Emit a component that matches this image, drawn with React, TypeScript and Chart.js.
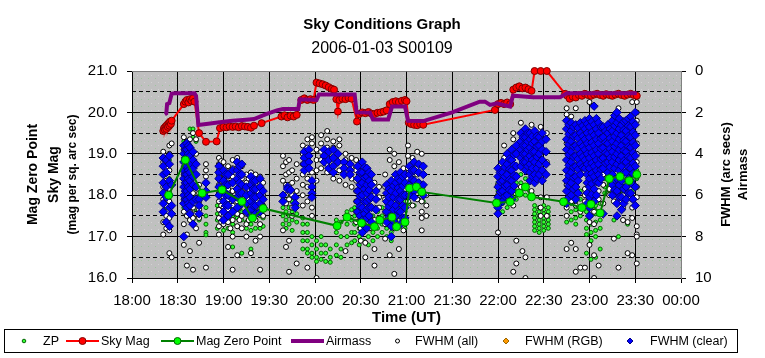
import React, { useEffect, useRef } from "react";
import { Chart, registerables } from "chart.js";
Chart.register(...registerables);

// x values are minutes after 18:00 UT
const xTickLabels = ["18:00", "18:30", "19:00", "19:30", "20:00", "20:30", "21:00", "21:30", "22:00", "22:30", "23:00", "23:30", "00:00"];

const skyMag: [number, number][] = [
  [20.5, 19.55], [21, 19.62], [21.5, 19.58], [22, 19.66], [22.5, 19.6], [23, 19.7], [23.5, 19.65], [24, 19.74], [24.5, 19.68], [25, 19.78], [25.5, 19.72], [26, 19.8],
  [34, 20.2], [35, 20.26], [36, 20.3], [37, 20.24], [38, 20.32], [39, 20.28], [40, 20.34], [41, 20.26],
  [44, 19.5], [48.5, 19.29], [55.5, 19.3], [57.7, 19.62], [60, 19.65], [62, 19.64], [64, 19.66], [66, 19.65], [68, 19.66], [70, 19.64], [72, 19.67], [74, 19.66], [76, 19.65], [78, 19.63], [80, 19.68], [85, 19.74],
  [98, 19.9], [100, 19.93], [102, 19.88], [104, 19.92], [106, 19.9], [108, 19.94],
  [111, 20.3], [113, 20.34], [115, 20.3], [117, 20.32], [119, 20.3],
  [121, 20.72], [123, 20.7], [125, 20.68], [127, 20.65], [129, 20.61], [131, 20.57], [132.5, 20.55],
  [134, 20.32], [135, 20.02], [136, 20.3], [138, 20.33], [140, 20.32], [142, 20.35], [144, 20.33],
  [147.5, 19.78], [149, 19.96], [151, 20.0], [153, 19.98], [155, 20.01], [157, 19.97], [159, 19.96], [161, 19.99], [163, 20.0], [165, 20.02], [167, 20.05],
  [169, 20.2], [171, 20.25], [173, 20.27], [175, 20.25], [177, 20.28], [179, 20.3], [180, 20.27],
  [181.5, 19.75], [183, 19.72], [185, 19.7], [187, 19.69], [189, 19.72], [191, 19.7],
  [238, 20.06], [240, 20.2], [242, 20.23], [244, 20.2], [246, 20.24], [248, 20.2],
  [250, 20.55], [252, 20.6], [254, 20.63], [256, 20.58], [258, 20.6], [260, 20.56], [262, 20.52],
  [264, 21.0], [268, 21.0], [272, 21.0],
  [284, 20.45], [285.5, 20.4], [287, 20.33], [289, 20.38], [291, 20.36], [293, 20.42], [295, 20.4], [297, 20.45], [299, 20.42], [301, 20.4], [303, 20.43], [305, 20.45], [307, 20.42], [309, 20.4], [311, 20.44], [313, 20.42], [315, 20.4], [317, 20.43], [319, 20.45], [321, 20.42], [323, 20.4], [325, 20.43], [327, 20.45], [329, 20.42], [331, 20.4],
];

const magZeroPoint: [number, number][] = [
  [24, 18.0], [35, 18.85], [46, 18.05], [59, 18.13], [72, 17.85], [79, 17.45], [86, 17.68],
  [134.5, 17.26], [141, 17.47], [150.5, 17.33], [159, 17.24], [162.5, 17.4], [170.5, 17.47], [173.5, 17.24], [179, 17.35], [182, 18.17], [186.5, 18.2], [190, 18.08],
  [239, 17.81], [248, 17.84], [254, 18.05], [258, 18.2], [262, 17.96], [283, 17.84], [295, 17.7], [301, 17.78], [307, 17.57], [313, 18.4], [320, 18.45], [326, 18.35], [331, 18.5],
];

const airmass: [number, number][] = [
  [21.5, 2.1], [22.5, 2.05], [23, 1.6], [24.5, 1.55], [26, 1.1], [28, 1.08], [41, 1.08], [42, 1.2], [43.5, 2.61],
  [50, 2.55], [60, 2.45], [66, 2.4], [75, 2.35], [80, 2.32], [88, 2.08], [95, 1.9], [99, 1.84], [109, 1.84], [110, 1.37],
  [121, 1.4], [122.6, 1.13], [146, 1.13], [147.3, 2.0], [156, 2.01], [158, 2.34], [168, 2.34], [170.5, 1.72], [179, 1.72],
  [181, 2.4], [191, 2.42], [210, 2.0], [228, 1.48], [231.5, 1.48], [234.8, 1.64], [239.3, 1.56], [247.9, 1.72], [249.8, 1.19],
  [263, 1.27], [280.7, 1.27], [285.2, 1.08], [331, 1.08],
];

const zpCols: [number, number[]][] = [
  [20.5, [18.8, 18.5, 18.2, 17.9, 17.6]], [22.5, [18.7, 18.3, 18.0, 17.7]], [24.5, [18.85, 18.4, 18.1, 17.85]],
  [34, [19.3, 19.2, 18.9, 18.6, 18.3, 18.0, 17.7]], [36, [19.3, 19.0, 18.7, 18.4, 18.1, 17.8, 17.5]], [38, [19.6, 19.1, 18.8, 18.5, 18.2, 17.9, 17.6]],
  [40, [19.6, 19.4, 18.0, 17.7, 17.4]], [42, [19.3, 17.9, 17.6]], [44, [17.9, 17.7, 17.5, 17.4]], [48.5, [17.7, 17.5, 17.3, 17.1, 17.04]],
  [56, [17.75, 17.55, 17.4, 17.2]], [60, [17.9, 17.7, 17.5, 17.3, 17.15]], [63, [17.8, 17.6, 17.4, 17.2]], [66, [17.7, 17.5, 17.3, 17.1, 16.75]],
  [69, [17.65, 17.45, 17.25]], [72, [17.6, 17.4, 17.2, 16.6]], [75, [17.55, 17.35, 17.2]], [78, [17.5, 17.3, 17.15, 16.7]],
  [81, [17.6, 17.4, 17.2]], [84, [17.5, 17.3, 17.2]], [86, [17.45, 17.25]],
  [99, [17.9, 17.7, 17.5, 17.3]], [101, [18.0, 17.8, 17.6, 17.4, 17.2]], [103, [17.95, 17.7, 17.5, 17.3]], [105, [17.85, 17.6, 17.4, 17.15]], [108, [17.75, 17.55, 17.35]],
  [112, [17.45, 17.3, 17.1, 16.9, 16.7]], [115, [17.3, 17.1, 16.9, 16.7, 16.6]], [118, [17.0, 16.8, 16.6, 16.5]], [121, [16.9, 16.7, 16.5, 16.4]],
  [124, [17.0, 16.8, 16.6, 16.45]], [127, [16.8, 16.6, 16.4]], [130, [16.7, 16.5, 16.38]],
  [134, [17.4, 17.1, 16.8, 16.55]], [137, [17.35, 17.0, 16.7, 16.5]], [141, [17.6, 17.3, 17.0, 16.8]], [144, [17.65, 17.4, 17.1, 16.85]],
  [146, [17.7, 17.5, 17.3, 17.1, 16.9]], [149, [17.6, 17.4, 17.2, 17.0, 16.8]], [152, [17.5, 17.3, 17.1, 16.9]], [155, [17.4, 17.2, 17.0, 16.8]],
  [158, [17.5, 17.3, 17.1, 16.9]], [161, [17.6, 17.4, 17.2, 17.0]], [164, [17.7, 17.5, 17.3, 17.1]],
  [167, [17.8, 17.6, 17.4, 17.2, 17.0]], [170, [17.7, 17.5, 17.3, 17.1, 16.9]], [173, [17.8, 17.6, 17.4, 17.2]], [176, [17.9, 17.7, 17.5, 17.3]],
  [179, [17.85, 17.6, 17.4, 17.2]], [182, [18.4, 18.2, 18.0, 17.8]], [185, [18.35, 18.15, 17.95, 17.75]], [188, [18.3, 18.1, 17.9]], [191, [18.2, 18.0, 17.85]],
  [240, [18.3, 18.1, 17.9, 17.7, 17.6]], [243, [18.2, 18.0, 17.8, 17.6]], [246, [18.3, 18.1, 17.9, 17.7]], [249, [18.4, 18.2, 18.0, 17.8]],
  [252, [18.5, 18.3, 18.1, 17.9]], [255, [18.5, 18.3, 18.1]], [258, [18.4, 18.2, 18.0]],
  [264, [17.75, 17.65, 17.55, 17.45, 17.35, 17.25, 17.15]], [267, [17.7, 17.6, 17.5, 17.4, 17.3, 17.2, 17.1]],
  [270, [17.75, 17.65, 17.55, 17.45, 17.35, 17.25, 17.15]], [273, [17.7, 17.6, 17.5, 17.4, 17.3, 17.2]],
  [285, [18.3, 18.1, 17.9, 17.7, 17.5, 17.35]], [288, [18.2, 18.0, 17.8, 17.6, 17.4]], [291, [18.25, 18.05, 17.85, 17.65, 17.45, 17.3]],
  [294, [18.1, 17.9, 17.7, 17.5]], [298, [18.0, 17.8, 17.6, 17.4, 17.2, 17.05, 16.6]], [301, [17.9, 17.7, 17.5, 17.3, 17.1, 16.9, 16.45]],
  [304, [17.95, 17.75, 17.55, 17.35, 17.15, 17.0, 16.5]], [307, [17.8, 17.6, 17.4, 17.2, 16.7]],
  [310, [18.6, 18.4, 18.2, 18.05]], [313, [18.7, 18.5, 18.3, 18.1]], [316, [18.6, 18.4, 18.2, 18.0, 17.4]], [319, [18.65, 18.45, 18.25, 18.05, 17.0]],
  [322, [18.5, 18.3, 18.1, 17.9]], [325, [18.6, 18.4, 18.2, 18.0, 17.3]], [328, [18.7, 18.5, 18.3, 18.1, 17.9]], [331, [18.6, 18.4, 18.2]],
];

const fwhmAllCols: [number, number[]][] = [
  [20.5, [3.9, 4.4, 5.0, 5.6, 6.2, 6.8, 7.3, 7.9]], [22.5, [4.2, 4.7, 5.3, 5.9, 6.5, 7.0, 7.6]], [24.5, [3.6, 4.0, 4.8, 5.7, 6.3, 7.1, 7.7, 8.8]], [26, [3.5, 9.0]],
  [34, [3.2, 3.8, 4.4, 5.0, 5.6, 6.2, 6.8, 7.4, 8.4]], [36, [3.4, 4.1, 6.5, 7.0, 7.9, 9.4]], [38, [3.3, 6.8, 7.2, 8.7]], [40, [3.0, 5.9, 6.6, 7.1, 9.6]], [42, [3.3, 4.0, 6.9, 7.6]],
  [44, [5.5, 5.9, 6.3, 6.7, 7.1, 8.3]], [48.5, [4.5, 4.8, 5.1, 5.4, 9.5]],
  [57, [4.2, 4.5, 4.8, 5.1, 5.5, 5.9, 6.3, 6.7, 7.1, 7.5, 7.9]], [58.5, [4.35, 4.65, 5.3, 5.7, 6.5, 6.9, 7.3]],
  [60, [4.4, 5.0, 5.6, 6.1, 6.6, 7.0, 7.4]], [63, [4.6, 5.1, 5.7, 6.2, 6.7, 7.3, 8.5]], [64.5, [4.8, 5.4, 6.0, 6.9, 7.6]],
  [66, [4.3, 4.7, 5.1, 5.8, 6.5, 7.2, 8.0, 9.6]], [69, [4.2, 4.7, 5.3, 5.8, 6.3, 6.9, 7.5, 8.9]], [70.5, [4.5, 5.0, 6.1, 6.6, 7.2]], [72, [4.6, 5.2, 5.8, 6.3, 7.0, 7.6]],
  [75, [5.0, 5.4, 5.9, 6.4, 6.9, 7.4, 8.0]], [76.5, [5.2, 5.7, 6.2, 6.7, 7.2]], [78, [4.9, 5.4, 5.9, 6.5, 7.1, 8.8]], [81, [5.0, 5.5, 6.0, 6.6, 7.2, 8.2]],
  [82.5, [5.25, 5.8, 6.3, 6.9]], [84, [5.1, 5.6, 6.2, 6.8, 7.4, 8.0, 9.6]], [86, [5.4, 6.0, 6.5, 7.0]],
  [99, [4.1, 4.6, 5.3, 7.7]], [101, [4.4, 5.0, 5.5, 6.0, 6.4, 8.5]], [103, [4.3, 4.9, 5.5, 6.2, 8.2, 9.7]], [105, [4.8, 5.4, 6.0, 6.6, 7.0]], [108, [4.5, 5.2, 5.8, 9.3]],
  [112, [3.6, 4.0, 4.5, 5.0, 5.5, 6.0, 6.5]], [115, [3.3, 3.7, 5.2, 5.6, 6.3, 9.5]], [118, [3.2, 3.5, 4.9, 6.6, 7.0]], [121, [3.8, 4.3, 4.8, 5.3, 10.0]],
  [124, [3.1, 3.5, 3.9, 4.3, 4.7]], [128, [2.9, 3.3, 3.7, 4.1, 4.5, 4.9]], [132, [3.4, 3.7, 4.0, 4.4, 5.2]], [136, [3.3, 3.6, 4.8, 5.3]], [140, [4.0, 4.3, 5.5, 8.7]], [144, [4.2, 4.6, 5.2, 5.6]],
  [147, [4.3, 4.8, 5.3, 5.8, 6.3, 6.8, 7.3]], [150, [4.5, 5.0, 5.7, 6.4, 7.0, 7.6, 8.2]], [153, [4.9, 5.6, 6.4, 7.0, 7.5, 8.3, 9.0]],
  [156, [5.2, 5.8, 6.5, 7.0, 7.6]], [159, [5.4, 6.0, 6.6, 7.2, 8.6, 9.4]], [162, [5.6, 6.1, 6.6, 7.1]],
  [166, [5.0, 5.6, 6.2, 6.8, 7.4, 8.1]], [169, [3.8, 4.3, 5.7, 6.5, 7.1, 8.9]], [172, [4.0, 4.6, 5.2, 6.0, 6.7, 7.6, 9.8]], [175, [4.4, 5.0, 5.6, 6.3, 7.0, 8.6]],
  [178, [4.7, 5.3, 6.1, 6.9, 7.7]], [181, [3.6, 4.1, 4.7, 5.2, 6.3]], [184, [4.2, 4.7, 5.2, 5.7, 6.5]], [187, [3.9, 4.5, 5.0, 5.5, 6.2]],
  [190, [4.0, 5.9, 6.3, 6.8, 7.1, 7.7]], [193, [6.0, 6.5, 7.0]],
  [240, [5.5, 6.0, 7.8]], [244, [3.6, 4.2]], [250, [3.0, 3.3, 3.7, 6.5, 9.7]], [252, [8.2, 9.3]], [255, [2.5, 5.6]], [256, [8.7]], [258, [9.0, 10.0]],
  [262, [2.6, 3.0, 5.8]], [268, [2.7, 3.1, 3.5, 6.1, 6.6, 7.0]], [272, [3.0, 4.4, 6.1, 7.0]],
  [285, [1.8, 2.1, 3.5, 5.5, 6.6, 7.0, 8.6]], [288, [2.2, 6.3, 8.3]], [291, [1.8, 5.9, 6.5, 8.6, 9.7]], [294, [6.8, 9.5]], [297, [5.7, 6.0, 6.3, 9.5]],
  [300, [1.5, 7.3, 8.4]], [303, [6.8, 7.4, 8.9, 10.0]], [306, [5.8, 6.2, 9.4]], [309, [5.0, 5.5, 6.4]], [313, [5.2, 5.7, 6.0]],
  [316, [2.3, 6.3, 8.1]], [319, [1.8, 5.8, 9.5]], [322, [5.6, 6.0, 6.6, 7.2]], [325, [5.3, 5.9, 7.3, 8.8]],
  [328, [1.5, 4.9, 5.4, 6.2, 6.6, 7.1, 8.9]], [331, [1.2, 1.5, 2.0, 2.4, 3.5, 4.0, 4.4, 5.1, 5.6, 6.1, 7.5, 7.9, 8.0, 9.3]],
];

const fwhmRgbCols: [number, number[]][] = [];

const fwhmClearCols: [number, number[]][] = [
  [20.5, [4.2, 4.6, 5.0, 5.4, 5.9, 6.4, 6.8]], [22.5, [4.3, 4.9, 5.6, 6.1, 7.3]], [24.5, [4.1, 4.5, 5.3, 6.0, 6.6, 7.5]], [26, [5.5, 6.5, 6.9]],
  [34, [3.6, 4.0, 4.4, 4.8, 5.2, 5.6, 6.0, 6.4, 8.0]], [35, [3.8, 4.2, 4.6, 5.0, 5.4, 5.8, 6.2]], [36, [3.5, 3.8, 4.2, 4.6, 5.0, 5.4, 5.8, 6.2, 6.6]],
  [37, [3.6, 4.0, 4.4, 4.8, 5.2, 5.6, 6.0, 6.4]], [38, [3.7, 4.1, 4.5, 4.9, 5.3, 5.7, 6.1, 6.5, 6.9]],
  [40, [3.9, 4.3, 4.7, 5.1, 5.5, 6.3, 7.4]], [42, [4.5, 5.0, 5.6, 6.2]],
  [44, [6.2, 6.5, 6.9]], [48.5, [5.4, 5.8, 6.1]],
  [57, [4.6, 4.9, 5.2, 5.6, 6.0]], [60, [4.8, 5.3, 5.8, 6.3, 6.8, 7.2]], [61.5, [5.0, 5.5, 6.0, 6.5]], [63, [5.0, 5.5, 6.0, 6.5, 7.0]], [66, [4.8, 5.4, 6.2, 6.8]],
  [69, [4.4, 4.8, 5.2, 5.7, 6.1, 6.6]], [70.5, [4.6, 5.0, 5.4, 5.9]], [72, [4.5, 5.0, 5.5, 5.9, 6.4]], [75, [5.6, 6.0, 6.4, 6.8]], [78, [5.1, 5.5, 5.9, 6.3, 6.7, 7.0]],
  [79.5, [5.3, 5.7, 6.1, 6.5]], [81, [5.3, 5.7, 6.1, 6.5, 6.9]], [84, [5.2, 5.6, 6.0, 6.4, 6.8]], [86, [5.8, 6.2, 6.6]],
  [99, [6.0, 6.3]], [102, [5.6, 5.7]], [104, [5.75]], [107, [6.1, 6.4, 6.6]],
  [113, [3.9, 4.2, 4.5, 4.8]], [116, [3.8, 4.1, 4.4, 4.7]], [118, [5.3, 5.6, 5.9, 6.1]],
  [126, [3.8, 4.1, 4.4]], [129, [3.9, 4.3, 4.7]], [132, [3.8, 4.2, 4.6, 4.9]], [135, [4.0, 4.4]], [139, [4.4, 4.7, 5.0]], [143, [4.5, 4.8, 5.0]],
  [148, [4.6, 5.2, 5.8, 6.3, 6.8]], [149.5, [4.9, 5.5, 6.05, 6.55, 7.0]], [151, [4.4, 4.9, 5.4, 6.0, 6.6, 7.2, 7.8]], [152.5, [4.65, 5.15, 5.7, 6.3, 6.9, 7.5]],
  [154, [4.7, 5.1, 5.5, 5.9, 6.3, 6.7, 7.1, 7.6]], [155.5, [4.9, 5.3, 5.75, 6.2, 6.6, 7.0]],
  [157, [5.0, 5.5, 6.1, 6.6, 7.3]], [160, [5.8, 6.2, 6.7]],
  [167, [5.5, 5.9, 6.3, 6.8, 7.3]], [168.5, [5.7, 6.1, 6.55, 7.05]], [170, [5.3, 5.8, 6.4, 7.0, 7.5, 8.0]], [171.5, [5.55, 6.1, 6.7, 7.25]],
  [173, [5.0, 5.4, 5.9, 6.5, 7.0]], [174.5, [5.2, 5.65, 6.2, 6.75]], [176, [4.9, 5.3, 5.8, 6.2, 6.8, 7.4]],
  [177.5, [5.1, 5.55, 6.0, 6.5, 7.1]], [179, [5.0, 5.4, 6.0, 6.6, 7.1]], [182, [4.6, 5.0, 5.5, 6.0]], [183.5, [4.8, 5.25, 5.75]], [185, [4.4, 4.8, 5.3, 5.8, 6.1]], [188, [4.5, 4.9, 5.4]], [191, [4.6, 5.0, 5.5, 6.0]],
  [240, [4.7, 5.1, 5.6, 6.1, 6.6, 6.9]], [241.5, [4.9, 5.35, 5.85, 6.35]], [243, [4.4, 4.9, 5.3, 5.8, 6.3]], [244.5, [4.65, 5.1, 5.55, 6.05]],
  [246, [4.0, 4.5, 5.0, 5.5, 6.0]], [247.5, [4.25, 4.75, 5.25, 5.75]], [249, [3.8, 4.3, 4.8, 5.3, 5.8, 6.2]], [250.5, [4.05, 4.55, 5.05, 5.55]],
  [252, [3.6, 4.0, 4.6, 5.1]], [255, [3.0, 3.4, 3.8, 4.2, 4.6]], [256.5, [3.2, 3.6, 4.0, 4.4]], [258, [2.8, 3.2, 3.6, 4.0, 4.4, 4.8]],
  [259.5, [3.0, 3.4, 3.8, 4.2, 4.6]], [261, [3.0, 3.3, 3.7, 4.1, 4.5, 4.9, 5.3]], [262.5, [3.15, 3.5, 3.9, 4.3, 4.7, 5.1]],
  [264, [2.9, 3.4, 3.9, 4.4, 5.0, 5.4]], [265.5, [3.15, 3.65, 4.15, 4.7, 5.2]], [267, [3.2, 3.6, 4.0, 4.5, 5.0]],
  [269, [3.0, 3.4, 3.8, 4.3, 4.8, 5.3]], [271.5, [3.3, 3.9, 4.5, 5.0]],
  [285, [2.4, 2.8, 3.3, 3.8, 4.3, 4.8, 5.3, 5.8, 6.4]], [286.5, [2.6, 3.05, 3.55, 4.05, 4.55, 5.05, 5.55, 6.1]],
  [288, [2.5, 2.9, 3.4, 3.9, 4.4, 4.9, 5.4, 6.0]], [289.5, [2.7, 3.15, 3.65, 4.15, 4.65, 5.15, 5.7]],
  [291, [2.6, 3.1, 3.6, 4.1, 4.6, 5.1, 5.6, 6.2]], [292.5, [2.75, 3.25, 3.75, 4.25, 4.75, 5.3, 5.9]],
  [294, [2.5, 3.0, 3.5, 4.0, 4.5, 5.0]], [295.5, [2.65, 3.15, 3.65, 4.15, 4.65]], [297, [2.4, 2.8, 3.3, 3.8, 4.3, 4.7]],
  [298.5, [2.55, 3.0, 3.5, 4.0, 4.5, 5.0, 5.4, 5.9, 6.4]], [300, [2.3, 2.7, 3.2, 3.7, 4.2, 4.7, 5.2, 5.6, 6.1, 6.6, 7.0]],
  [301.5, [2.45, 2.95, 3.45, 3.95, 4.45, 4.95, 5.45, 5.95]], [303, [1.7, 2.6, 3.1, 3.6, 4.1, 4.6, 5.1, 5.7, 6.3]],
  [304.5, [2.3, 2.8, 3.3, 3.8, 4.3, 4.8, 5.35, 6.0]], [306, [2.5, 3.0, 3.5, 4.0, 4.5, 5.0, 5.4]], [307.5, [2.7, 3.25, 3.75, 4.25, 4.75, 5.2]],
  [309, [2.7, 3.2, 3.7, 4.2, 4.7, 6.9]], [310.5, [2.9, 3.45, 3.95, 4.45]], [312, [2.6, 3.0, 3.5, 4.0, 4.4, 4.9]],
  [313.5, [2.8, 3.25, 3.75, 4.2, 4.65, 5.2]], [315, [2.4, 2.9, 3.4, 3.9, 4.4, 5.0, 5.5, 6.0]],
  [316.5, [2.15, 2.65, 3.15, 3.65, 4.15, 4.7, 5.25, 5.75]], [318, [2.0, 2.5, 3.0, 3.5, 4.0, 4.5, 5.2, 5.8, 6.4, 7.0]],
  [319.5, [2.3, 2.8, 3.3, 3.8, 4.3, 4.8, 5.5, 6.1]], [321, [2.6, 3.1, 3.6, 4.1, 4.6, 5.3, 6.1, 6.7]],
  [322.5, [2.45, 2.85, 3.35, 3.85, 4.35, 4.9, 5.7, 6.4]], [324, [2.4, 2.9, 3.4, 3.9, 4.4, 4.9, 5.6, 6.2]],
  [325.5, [2.3, 2.65, 3.15, 3.65, 4.15, 4.65, 5.2, 5.9]], [327, [2.2, 2.7, 3.2, 3.7, 4.2, 4.7, 5.3, 5.9]],
  [328.5, [2.45, 2.95, 3.45, 3.95, 4.45, 4.95, 5.5, 6.2]], [330, [2.0, 2.6, 3.1, 3.6, 4.1, 4.6, 5.6, 6.5]],
];

const FONT = '"Liberation Sans", Arial, Helvetica, sans-serif';

const toPts = (arr: [number, number][]) => arr.map(([x, y]) => ({ x, y }));
const colsToPts = (cols: [number, number[]][]) => cols.flatMap(([x, vs]) => vs.map((y) => ({ x, y })));

function makePattern(): CanvasPattern | string {
  const c = document.createElement("canvas");
  c.width = 7; c.height = 7;
  const g = c.getContext("2d");
  if (!g) return "#c0c0c0";
  g.fillStyle = "#c0c0c0"; g.fillRect(0, 0, 7, 7);
  g.fillStyle = "#9cc49c"; g.fillRect(1, 1, 1, 1);
  g.fillStyle = "#d2d2d2"; g.fillRect(4, 5, 1, 1);
  const p = g.createPattern(c, "repeat");
  return p || "#c0c0c0";
}

export default function App() {
  const ref = useRef<HTMLCanvasElement | null>(null);
  useEffect(() => {
    if (!ref.current) return;
    const pattern = makePattern();

    const decor = {
      id: "decor",
      beforeDraw(chart: any) {
        const { ctx, chartArea: a } = chart;
        ctx.save();
        ctx.fillStyle = pattern;
        ctx.fillRect(a.left, a.top, a.right - a.left, a.bottom - a.top);
        ctx.restore();
      },
      beforeDatasetsDraw(chart: any) {
        const { ctx, chartArea: a } = chart;
        const y1 = chart.scales.y1;
        ctx.save();
        ctx.lineWidth = 1;
        ctx.strokeStyle = "#000";
        for (let v = 1; v < 10; v++) {
          const y = Math.round(y1.getPixelForValue(v) - 0.5) + 0.5;
          ctx.setLineDash(v % 2 ? [4, 3] : []);
          ctx.beginPath(); ctx.moveTo(a.left, y); ctx.lineTo(a.right, y); ctx.stroke();
        }
        ctx.setLineDash([]);
        ctx.strokeStyle = "#808080";
        ctx.beginPath(); ctx.moveTo(a.left, a.top + 0.5); ctx.lineTo(a.right, a.top + 0.5); ctx.stroke();
        ctx.restore();
      },
      afterDraw(chart: any) {
        const { ctx, chartArea: a } = chart;
        ctx.save();
        ctx.fillStyle = "#000";
        ctx.textAlign = "center";
        ctx.textBaseline = "alphabetic";
        ctx.font = `bold 15px ${FONT}`;
        ctx.fillText("Sky Conditions Graph", 382, 29);
        ctx.font = `16px ${FONT}`;
        ctx.fillText("2006-01-03 S00109", 382, 53);
        ctx.font = `bold 15px ${FONT}`;
        ctx.fillText("Time (UT)", (a.left + a.right) / 2, 322);

        const cy = (a.top + a.bottom) / 2;
        const vText = (t: string, x: number, font: string) => {
          ctx.save();
          ctx.translate(x, cy);
          ctx.rotate(-Math.PI / 2);
          ctx.font = font;
          ctx.textBaseline = "middle";
          ctx.fillText(t, 0, 0);
          ctx.restore();
        };
        vText("Mag Zero Point", 33, `bold 14px ${FONT}`);
        vText("Sky Mag", 54, `bold 14px ${FONT}`);
        vText("(mag per sq. arc sec)", 73, `bold 12px ${FONT}`);
        vText("FWHM (arc secs)", 726, `bold 13px ${FONT}`);
        vText("Airmass", 743, `bold 13px ${FONT}`);

        // legend
        ctx.strokeStyle = "#000";
        ctx.lineWidth = 1;
        ctx.strokeRect(4.5, 329.5, 733, 23);
        const ly = 341;
        const circle = (x: number, r: number, fill: string, stroke: string) => {
          ctx.beginPath(); ctx.arc(x, ly, r, 0, Math.PI * 2);
          ctx.fillStyle = fill; ctx.fill(); ctx.strokeStyle = stroke; ctx.lineWidth = 1; ctx.stroke();
        };
        const diamond = (x: number, r: number, fill: string, stroke: string) => {
          ctx.beginPath(); ctx.moveTo(x, ly - r); ctx.lineTo(x + r, ly); ctx.lineTo(x, ly + r); ctx.lineTo(x - r, ly); ctx.closePath();
          ctx.fillStyle = fill; ctx.fill(); ctx.strokeStyle = stroke; ctx.lineWidth = 1; ctx.stroke();
        };
        const line = (x0: number, x1: number, color: string, w: number) => {
          ctx.beginPath(); ctx.moveTo(x0, ly); ctx.lineTo(x1, ly); ctx.strokeStyle = color; ctx.lineWidth = w; ctx.stroke();
        };
        circle(24, 1.8, "#33ff33", "#006400");
        line(66, 99, "#ff0000", 2); circle(82.5, 3.5, "#ff0000", "#800000");
        line(161, 194, "#008000", 2); circle(177.5, 3.5, "#00ff00", "#006400");
        line(291, 324, "#800080", 4);
        circle(397.5, 2, "#ffffff", "#000000");
        diamond(506, 3, "#ff9900", "#996600");
        diamond(630, 3, "#0000ff", "#000080");
        ctx.fillStyle = "#000";
        ctx.font = `12.5px ${FONT}`;
        ctx.textAlign = "left";
        ctx.textBaseline = "middle";
        ctx.fillText("ZP", 43, ly + 1);
        ctx.fillText("Sky Mag", 101, ly + 1);
        ctx.fillText("Mag Zero Point", 196, ly + 1);
        ctx.fillText("Airmass", 326, ly + 1);
        ctx.fillText("FWHM (all)", 415, ly + 1);
        ctx.fillText("FWHM (RGB)", 525, ly + 1);
        ctx.fillText("FWHM (clear)", 650, ly + 1);
        ctx.restore();
      },
    };

    const tickFont = { family: FONT, size: 15 };
    const chart = new Chart(ref.current, {
      type: "scatter",
      data: {
        datasets: [
          {
            label: "ZP", data: colsToPts(zpCols), yAxisID: "y", order: 7,
            pointRadius: 2, pointBackgroundColor: "#33ff33", pointBorderColor: "#006400", pointBorderWidth: 1, showLine: false,
          },
          {
            label: "Sky Mag", data: toPts(skyMag), yAxisID: "y", order: 2, showLine: true, clip: false,
            borderColor: "#ff0000", borderWidth: 2, pointRadius: 3.5, pointBackgroundColor: "#ff0000", pointBorderColor: "#800000", pointBorderWidth: 1,
          },
          {
            label: "Mag Zero Point", data: toPts(magZeroPoint), yAxisID: "y", order: 3, showLine: true,
            borderColor: "#008000", borderWidth: 2, pointRadius: 4, pointBackgroundColor: "#00ff00", pointBorderColor: "#008000", pointBorderWidth: 1,
          },
          {
            label: "Airmass", data: toPts(airmass), yAxisID: "y1", order: 1, showLine: true,
            borderColor: "#800080", borderWidth: 4, pointRadius: 0, borderJoinStyle: "miter",
          },
          {
            label: "FWHM (all)", data: colsToPts(fwhmAllCols), yAxisID: "y1", order: 6,
            pointRadius: 2.5, pointBackgroundColor: "#ffffff", pointBorderColor: "#000000", pointBorderWidth: 1, showLine: false,
          },
          {
            label: "FWHM (RGB)", data: colsToPts(fwhmRgbCols), yAxisID: "y1", order: 5,
            pointStyle: "rectRot", pointRadius: 4, pointBackgroundColor: "#ff9900", pointBorderColor: "#996600", showLine: false,
          },
          {
            label: "FWHM (clear)", data: colsToPts(fwhmClearCols), yAxisID: "y1", order: 4,
            pointStyle: "rectRot", pointRadius: 4.2, pointBackgroundColor: "#0000ff", pointBorderColor: "#000080", pointBorderWidth: 1, showLine: false,
          },
        ],
      } as any,
      options: {
        responsive: false,
        animation: false,
        devicePixelRatio: 1,
        layout: { padding: { top: 71, left: 0, right: 0, bottom: 0 } },
        plugins: { legend: { display: false }, tooltip: { enabled: false }, title: { display: false } },
        scales: {
          x: {
            type: "linear", min: 0, max: 360,
            afterFit: (s: any) => { s.height = 80; },
            ticks: {
              stepSize: 30, autoSkip: false, maxRotation: 0, color: "#000", font: tickFont, padding: 9,
              callback: (v: any) => xTickLabels[Math.round(Number(v) / 30)] ?? "",
            },
            grid: {
              color: (c: any) => (c.tick && c.tick.value === 360 ? "#808080" : "#000000"),
              lineWidth: 1, tickLength: 5, tickColor: "#000",
            },
            border: { color: "#000", width: 1 },
          },
          y: {
            type: "linear", position: "left", min: 16, max: 21,
            afterFit: (s: any) => { s.width = 132; },
            ticks: { stepSize: 1, color: "#000", font: tickFont, padding: 10, callback: (v: any) => Number(v).toFixed(1) },
            grid: { drawOnChartArea: false, tickLength: 5, tickColor: "#000", color: "#000" },
            border: { color: "#000", width: 1 },
          },
          y1: {
            type: "linear", position: "right", min: 0, max: 10, reverse: true,
            afterFit: (s: any) => { s.width = 84; },
            ticks: { stepSize: 1, color: "#000", font: tickFont, padding: 9 },
            grid: { drawOnChartArea: false, tickLength: 5, tickColor: "#000", color: "#000" },
            border: { color: "#808080", width: 1 },
          },
        },
      } as any,
      plugins: [decor as any],
    });
    return () => chart.destroy();
  }, []);

  return (
    <div style={{ position: "absolute", left: 0, top: 0, width: 765, height: 358, background: "#fff" }}>
      <canvas ref={ref} width={765} height={358} style={{ width: 765, height: 358, display: "block" }} />
    </div>
  );
}
